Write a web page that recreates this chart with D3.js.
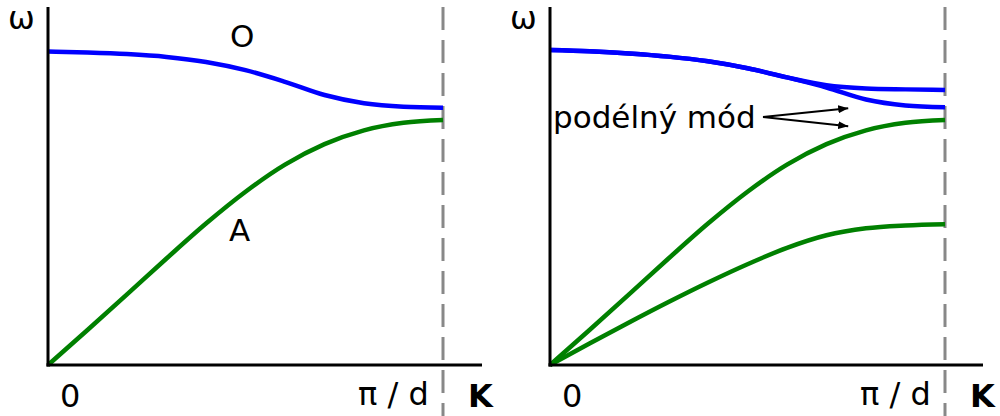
<!DOCTYPE html>
<html>
<head>
<meta charset="utf-8">
<script src="https://cdn.jsdelivr.net/npm/d3@7"></script>
<style>
  html, body { margin: 0; padding: 0; background: #fff; }
  svg { display: block; }
  text { font-family: "DejaVu Sans", sans-serif; fill: #000; }
</style>
</head>
<body>
<svg id="chart" width="1000" height="416"></svg>
<script>
// Wave vector K, as a fraction of the zone edge π/d
const kGrid = [0, 0.1, 0.2, 0.3, 0.4, 0.5, 0.6, 0.7, 0.8, 0.9, 1.0];

// Left panel: one optical (O) and one acoustic (A) branch
const leftOptical  = [0.995, 0.992, 0.987, 0.978, 0.962, 0.936, 0.899, 0.857, 0.831, 0.820, 0.817];
const leftAcoustic = [0, 0.111, 0.224, 0.338, 0.449, 0.550, 0.636, 0.701, 0.745, 0.769, 0.778];

// Right panel: branches split into transverse and longitudinal modes
const rightOpticalUpper  = [1.0, 0.996, 0.989, 0.979, 0.964, 0.942, 0.913, 0.888, 0.878, 0.875, 0.873];
const rightOpticalLower  = [1.0, 0.996, 0.989, 0.979, 0.964, 0.942, 0.913, 0.881, 0.843, 0.824, 0.818];
const rightAcousticUpper = [0, 0.111, 0.224, 0.338, 0.449, 0.550, 0.636, 0.701, 0.745, 0.769, 0.778];
const rightAcousticLower = [0, 0.068, 0.135, 0.200, 0.262, 0.320, 0.372, 0.412, 0.434, 0.443, 0.447];

const axisLabels = { omega: "ω", zero: "0", edge: "π / d", k: "K" };
const branchLabels = { optical: "O", acoustic: "A" };
const modeLabel = "podélný mód";

const svg = d3.select("#chart");

// Arrow head for the annotation
svg.append("defs").append("marker")
  .attr("id", "arrowhead")
  .attr("viewBox", "0 0 10 8")
  .attr("refX", 10).attr("refY", 4)
  .attr("markerWidth", 10).attr("markerHeight", 8)
  .attr("markerUnits", "userSpaceOnUse")
  .attr("orient", "auto")
  .append("path")
  .attr("d", "M0,0 L10,4 L0,8 Z")
  .attr("fill", "#000");

const y = d3.scaleLinear().domain([0, 1]).range([365, 50]);

function panel(x0, x1, axisEnd, series) {
  const x = d3.scaleLinear().domain([0, 1]).range([x0, x1]);
  const g = svg.append("g");

  // zone boundary
  g.append("line")
    .attr("x1", x(1)).attr("x2", x(1))
    .attr("y1", 7).attr("y2", 416)
    .attr("stroke", "#888").attr("stroke-width", 3)
    .attr("stroke-dasharray", "23,10");

  const line = d3.line()
    .x((d, i) => x(kGrid[i]))
    .y(d => y(d))
    .curve(d3.curveMonotoneX);

  series.forEach(s => {
    g.append("path")
      .attr("d", line(s.values))
      .attr("fill", "none")
      .attr("stroke", s.color)
      .attr("stroke-width", 4.5)
      .attr("stroke-linecap", "butt");
  });

  // axes
  g.append("line")
    .attr("x1", x(0)).attr("x2", x(0))
    .attr("y1", 7).attr("y2", y(0) + 1.5)
    .attr("stroke", "#000").attr("stroke-width", 3);
  g.append("line")
    .attr("x1", x(0) - 1.5).attr("x2", axisEnd)
    .attr("y1", y(0)).attr("y2", y(0))
    .attr("stroke", "#000").attr("stroke-width", 3);

  g.append("text").attr("x", x(0) - 40).attr("y", 29)
    .attr("font-size", 32).text(axisLabels.omega);
  g.append("text").attr("x", x(0) + 12).attr("y", 407)
    .attr("font-size", 32).text(axisLabels.zero);
  g.append("text").attr("x", x(1) - 85).attr("y", 405)
    .attr("font-size", 32).text(axisLabels.edge);
  g.append("text").attr("x", x(1) + 25).attr("y", 407)
    .attr("font-size", 32).attr("font-weight", "bold").text(axisLabels.k);

  return { g, x };
}

const blue = "#0000ff", green = "#008000";

const left = panel(48, 443, 482, [
  { values: leftOptical, color: blue },
  { values: leftAcoustic, color: green }
]);
left.g.append("text").attr("x", 230).attr("y", 47)
  .attr("font-size", 31).text(branchLabels.optical);
left.g.append("text").attr("x", 229).attr("y", 241)
  .attr("font-size", 31).text(branchLabels.acoustic);

const right = panel(550, 945, 983, [
  { values: rightOpticalUpper, color: blue },
  { values: rightOpticalLower, color: blue },
  { values: rightAcousticUpper, color: green },
  { values: rightAcousticLower, color: green }
]);

right.g.append("text").attr("x", 553).attr("y", 128)
  .attr("font-size", 31).text(modeLabel);

// arrows from the label to the two longitudinal branches
[[0.755, 0.815], [0.755, 0.758]].forEach(([kTip, wTip]) => {
  right.g.append("line")
    .attr("x1", 763).attr("y1", 117)
    .attr("x2", right.x(kTip)).attr("y2", y(wTip))
    .attr("stroke", "#000").attr("stroke-width", 2)
    .attr("marker-end", "url(#arrowhead)");
});
</script>
</body>
</html>
